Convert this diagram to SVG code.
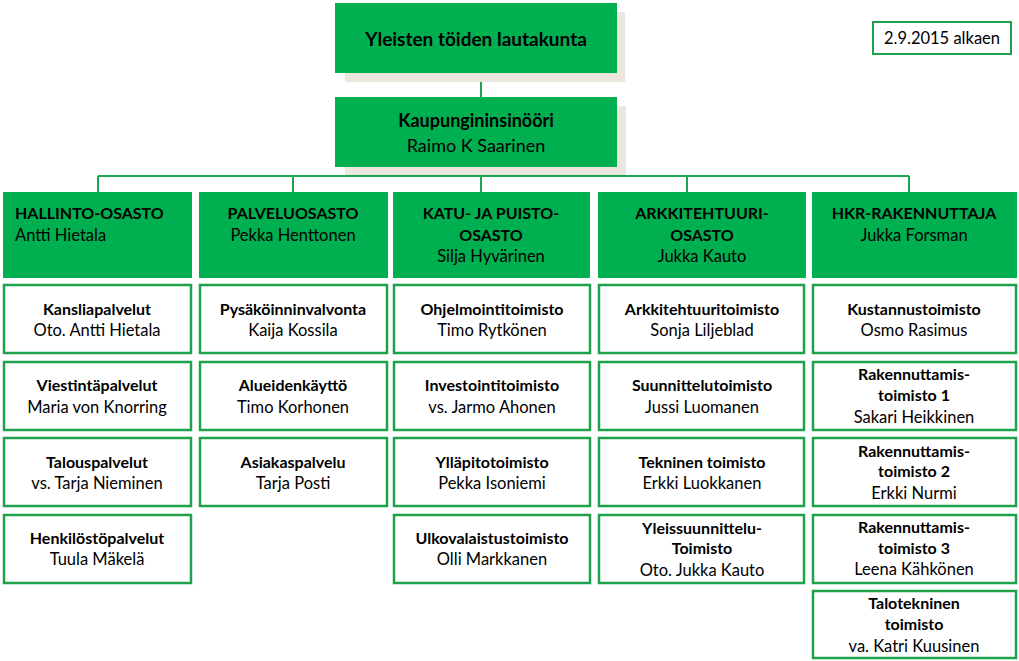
<svg xmlns="http://www.w3.org/2000/svg" width="1019" height="661" viewBox="0 0 1019 661">
<style>
text{font-family:Lato,"Liberation Sans",sans-serif;font-size:16.5px;fill:#000;text-anchor:middle}
.b{font-weight:bold;font-size:16px}
.l{text-anchor:start}
.top{fill:#00b050}
.shadow{fill:#ebe7de}
.dept{fill:#00b050}
.sub{fill:#fff;stroke:#1fa04b;stroke-width:2.5}
.conn{stroke:#1aa64c;stroke-width:2;fill:none}
</style>
<rect width="1019" height="661" fill="#fff"/>
<g id="connectors">
<path class="conn" d="M481 73V97M481 166V176M98 176H909M98 176V192M293 176V192M481 176V192M687 176V192M909 176V192"/>
</g>
<g id="board">
<rect class="shadow" x="345" y="12" width="280" height="70"/>
<rect class="top" x="335" y="3" width="282" height="70"/>
<text class="b" x="476" y="46" style="font-size:19px">Yleisten töiden lautakunta</text>
</g>
<g id="chief">
<rect class="shadow" x="345" y="106" width="281" height="69"/>
<rect class="top" x="335" y="97" width="282" height="70"/>
<text class="b" x="476" y="127" style="font-size:18px">Kaupungininsinööri</text>
<text x="476" y="152" style="font-size:18px">Raimo K Saarinen</text>
</g>
<g id="date">
<rect x="873" y="22" width="138" height="32" fill="none" stroke="#1fa04b" stroke-width="2"/>
<text x="942" y="44">2.9.2015 alkaen</text>
</g>
<g id="hallinto">
<rect class="dept" x="3" y="192" width="189" height="86"/>
<text class="b l" x="15" y="219">HALLINTO-OSASTO</text>
<text class="l" x="15" y="241">Antti Hietala</text>
</g>
<g id="palvelu">
<rect class="dept" x="199" y="192" width="189" height="86"/>
<text class="b" x="293" y="219">PALVELUOSASTO</text>
<text x="293" y="241">Pekka Henttonen</text>
</g>
<g id="katu">
<rect class="dept" x="393" y="192" width="197" height="86"/>
<text class="b" x="491" y="219">KATU- JA PUISTO-</text>
<text class="b" x="491" y="241">OSASTO</text>
<text x="491" y="262">Silja Hyvärinen</text>
</g>
<g id="arkki">
<rect class="dept" x="598" y="192" width="208" height="86"/>
<text class="b" x="702" y="219">ARKKITEHTUURI-</text>
<text class="b" x="702" y="241">OSASTO</text>
<text x="702" y="262">Jukka Kauto</text>
</g>
<g id="hkr">
<rect class="dept" x="812" y="192" width="205" height="86"/>
<text class="b" x="914" y="219">HKR-RAKENNUTTAJA</text>
<text x="914" y="241">Jukka Forsman</text>
</g>
<g id="kanslia">
<rect class="sub" x="4" y="285" width="187" height="68"/>
<text class="b" x="97" y="315">Kansliapalvelut</text>
<text x="97" y="336">Oto. Antti Hietala</text>
</g>
<g id="viestinta">
<rect class="sub" x="4" y="362" width="187" height="68"/>
<text class="b" x="97" y="391">Viestintäpalvelut</text>
<text x="97" y="413">Maria von Knorring</text>
</g>
<g id="talous">
<rect class="sub" x="4" y="438" width="187" height="68"/>
<text class="b" x="97" y="468">Talouspalvelut</text>
<text x="97" y="489">vs. Tarja Nieminen</text>
</g>
<g id="henkilosto">
<rect class="sub" x="4" y="515" width="187" height="68"/>
<text class="b" x="97" y="544">Henkilöstöpalvelut</text>
<text x="97" y="565">Tuula Mäkelä</text>
</g>
<g id="pysakointi">
<rect class="sub" x="200" y="285" width="187" height="68"/>
<text class="b" x="293" y="315">Pysäköinninvalvonta</text>
<text x="293" y="336">Kaija Kossila</text>
</g>
<g id="alueiden">
<rect class="sub" x="200" y="362" width="187" height="68"/>
<text class="b" x="293" y="391">Alueidenkäyttö</text>
<text x="293" y="413">Timo Korhonen</text>
</g>
<g id="asiakas">
<rect class="sub" x="200" y="438" width="187" height="68"/>
<text class="b" x="293" y="468">Asiakaspalvelu</text>
<text x="293" y="489">Tarja Posti</text>
</g>
<g id="ohjelmointi">
<rect class="sub" x="394" y="285" width="196" height="68"/>
<text class="b" x="492" y="315">Ohjelmointitoimisto</text>
<text x="492" y="336">Timo Rytkönen</text>
</g>
<g id="investointi">
<rect class="sub" x="394" y="362" width="196" height="68"/>
<text class="b" x="492" y="391">Investointitoimisto</text>
<text x="492" y="413">vs. Jarmo Ahonen</text>
</g>
<g id="yllapito">
<rect class="sub" x="394" y="438" width="196" height="68"/>
<text class="b" x="492" y="468">Ylläpitotoimisto</text>
<text x="492" y="489">Pekka Isoniemi</text>
</g>
<g id="ulkovalaistus">
<rect class="sub" x="394" y="515" width="196" height="68"/>
<text class="b" x="492" y="544">Ulkovalaistustoimisto</text>
<text x="492" y="565">Olli Markkanen</text>
</g>
<g id="arkkitehtuuritoimisto">
<rect class="sub" x="599" y="285" width="205" height="68"/>
<text class="b" x="702" y="315">Arkkitehtuuritoimisto</text>
<text x="702" y="336">Sonja Liljeblad</text>
</g>
<g id="suunnittelu">
<rect class="sub" x="599" y="362" width="205" height="68"/>
<text class="b" x="702" y="391">Suunnittelutoimisto</text>
<text x="702" y="413">Jussi Luomanen</text>
</g>
<g id="tekninen">
<rect class="sub" x="599" y="438" width="205" height="68"/>
<text class="b" x="702" y="468">Tekninen toimisto</text>
<text x="702" y="489">Erkki Luokkanen</text>
</g>
<g id="yleissuunnittelu">
<rect class="sub" x="599" y="515" width="205" height="68"/>
<text class="b" x="702" y="534">Yleissuunnittelu-</text>
<text class="b" x="702" y="554">Toimisto</text>
<text x="702" y="576">Oto. Jukka Kauto</text>
</g>
<g id="kustannus">
<rect class="sub" x="813" y="285" width="203" height="68"/>
<text class="b" x="914" y="315">Kustannustoimisto</text>
<text x="914" y="336">Osmo Rasimus</text>
</g>
<g id="rak1">
<rect class="sub" x="813" y="362" width="203" height="68"/>
<text class="b" x="914" y="380">Rakennuttamis-</text>
<text class="b" x="914" y="401">toimisto 1</text>
<text x="914" y="423">Sakari Heikkinen</text>
</g>
<g id="rak2">
<rect class="sub" x="813" y="438" width="203" height="68"/>
<text class="b" x="914" y="457">Rakennuttamis-</text>
<text class="b" x="914" y="477">toimisto 2</text>
<text x="914" y="499">Erkki Nurmi</text>
</g>
<g id="rak3">
<rect class="sub" x="813" y="515" width="203" height="68"/>
<text class="b" x="914" y="533">Rakennuttamis-</text>
<text class="b" x="914" y="554">toimisto 3</text>
<text x="914" y="575">Leena Kähkönen</text>
</g>
<g id="talotekninen">
<rect class="sub" x="813" y="591" width="203" height="67"/>
<text class="b" x="914" y="609">Talotekninen</text>
<text class="b" x="914" y="630">toimisto</text>
<text x="914" y="652">va. Katri Kuusinen</text>
</g>
</svg>
